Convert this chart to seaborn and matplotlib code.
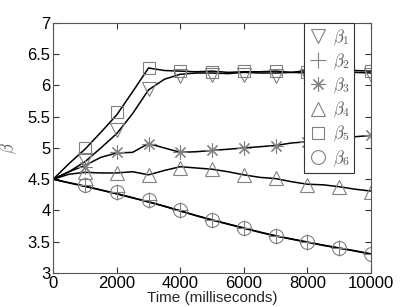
import numpy as np
import pandas as pd
import matplotlib
matplotlib.use("Agg")
import matplotlib.pyplot as plt
import seaborn as sns
from matplotlib.lines import Line2D

# line samples (every 500 ms)
t_line = [0, 500, 1000, 1500, 2000, 2500, 3000, 3500, 4000, 4500, 5000,
          5500, 6000, 6500, 7000, 7500, 8000, 8500, 9000, 9500, 10000]
b1_line = [4.5, 4.62, 4.78, 5.0, 5.23, 5.55, 5.93, 6.1, 6.18, 6.2, 6.2,
           6.19, 6.21, 6.2, 6.2, 6.21, 6.2, 6.21, 6.2, 6.21, 6.2]
b2_line = [4.5, 4.445, 4.39, 4.33, 4.27, 4.205, 4.14, 4.07, 3.995, 3.92, 3.85,
           3.785, 3.72, 3.655, 3.595, 3.545, 3.495, 3.445, 3.4, 3.355, 3.305]
b3_line = [4.5, 4.62, 4.72, 4.85, 4.92, 4.93, 5.07, 5.0, 4.93, 4.94, 4.96,
           4.98, 5.0, 5.02, 5.04, 5.08, 5.1, 5.13, 5.15, 5.18, 5.2]
b4_line = [4.5, 4.58, 4.61, 4.6, 4.6, 4.62, 4.57, 4.64, 4.7, 4.68, 4.66,
           4.62, 4.57, 4.53, 4.51, 4.46, 4.42, 4.41, 4.38, 4.34, 4.31]
b5_line = [4.5, 4.75, 4.98, 5.25, 5.53, 5.9, 6.28, 6.24, 6.23, 6.22, 6.23,
           6.21, 6.22, 6.22, 6.23, 6.21, 6.24, 6.22, 6.23, 6.24, 6.23]
b6_line = [4.5, 4.44, 4.385, 4.325, 4.265, 4.2, 4.135, 4.065, 3.99, 3.915, 3.845,
           3.78, 3.715, 3.65, 3.59, 3.54, 3.49, 3.44, 3.395, 3.35, 3.3]

# marker samples (every 1000 ms)
t_mark = [1000, 2000, 3000, 4000, 5000, 6000, 7000, 8000, 9000, 10000]
b1_mark = [4.8, 5.29, 5.95, 6.15, 6.17, 6.17, 6.15, 6.16, 6.16, 6.17]
b2_mark = [4.41, 4.3, 4.16, 4.01, 3.85, 3.72, 3.59, 3.49, 3.4, 3.3]
b3_mark = [4.7, 4.93, 5.06, 4.93, 4.96, 5.0, 5.03, 5.1, 5.15, 5.2]
b4_mark = [4.61, 4.6, 4.56, 4.68, 4.66, 4.57, 4.52, 4.41, 4.38, 4.3]
b5_mark = [5.0, 5.58, 6.28, 6.23, 6.22, 6.23, 6.23, 6.22, 6.22, 6.23]
b6_mark = [4.41, 4.3, 4.16, 4.01, 3.85, 3.72, 3.59, 3.49, 3.4, 3.3]

labels = [r"$\beta_1$", r"$\beta_2$", r"$\beta_3$", r"$\beta_4$", r"$\beta_5$", r"$\beta_6$"]
markers = ["v", "+", (8, 2, 0), "^", "s", "o"]
msizes = [10, 11, 10, 10, 8, 10]

sns.set_style("ticks")
plt.rcParams["font.family"] = ["Liberation Sans", "DejaVu Sans"]
plt.rcParams["mathtext.fontset"] = "cm"

fig = plt.figure(figsize=(4.09, 3.07), dpi=100)
ax = fig.add_axes([0.130, 0.111, 0.777, 0.814])

lines = [b1_line, b2_line, b3_line, b4_line, b5_line, b6_line]
marks = [b1_mark, b2_mark, b3_mark, b4_mark, b5_mark, b6_mark]

for yl in lines:
    sns.lineplot(x=t_line, y=yl, ax=ax, color="black", lw=1.1, estimator=None)

grey = "#808080"
for ym, mk, ms in zip(marks, markers, msizes):
    sns.lineplot(x=t_mark, y=ym, ax=ax, estimator=None, linestyle="",
                 marker=mk, markersize=ms, mfc="none", mec=grey, mew=0.8, color=grey)

ax.set_xlim(0, 10000)
ax.set_ylim(3, 7)
ax.set_xticks([0, 2000, 4000, 6000, 8000, 10000])
ax.set_yticks([3, 3.5, 4, 4.5, 5, 5.5, 6, 6.5, 7])
ax.set_yticklabels(["3", "3.5", "4", "4.5", "5", "5.5", "6", "6.5", "7"])
ax.tick_params(direction="in", top=True, right=True, length=4, width=0.8,
               labelsize=12, colors="#333333", labelcolor="black", pad=2)
for s in ax.spines.values():
    s.set_color("#555555")
    s.set_linewidth(0.8)

ax.set_xlabel("Time (milliseconds)", fontsize=11, labelpad=0.5)
ax.set_ylabel(r"$\beta$", fontsize=12, color="#555555", labelpad=6)

handles = [Line2D([], [], linestyle="", marker=mk, markersize=ms, mfc="none",
                  mec=grey, mew=0.8) for mk, ms in zip(markers, msizes)]
leg = ax.legend(handles, labels, loc="upper right", bbox_to_anchor=(0.947, 1.0),
                fontsize=12, fancybox=False, framealpha=1, edgecolor="#333333",
                handletextpad=0.3, handlelength=1.2, labelspacing=0.22,
                borderpad=0.25, borderaxespad=0)
leg.get_frame().set_linewidth(0.8)
for txt in leg.get_texts():
    txt.set_color("#555555")

fig.savefig("out.png", dpi=100)
